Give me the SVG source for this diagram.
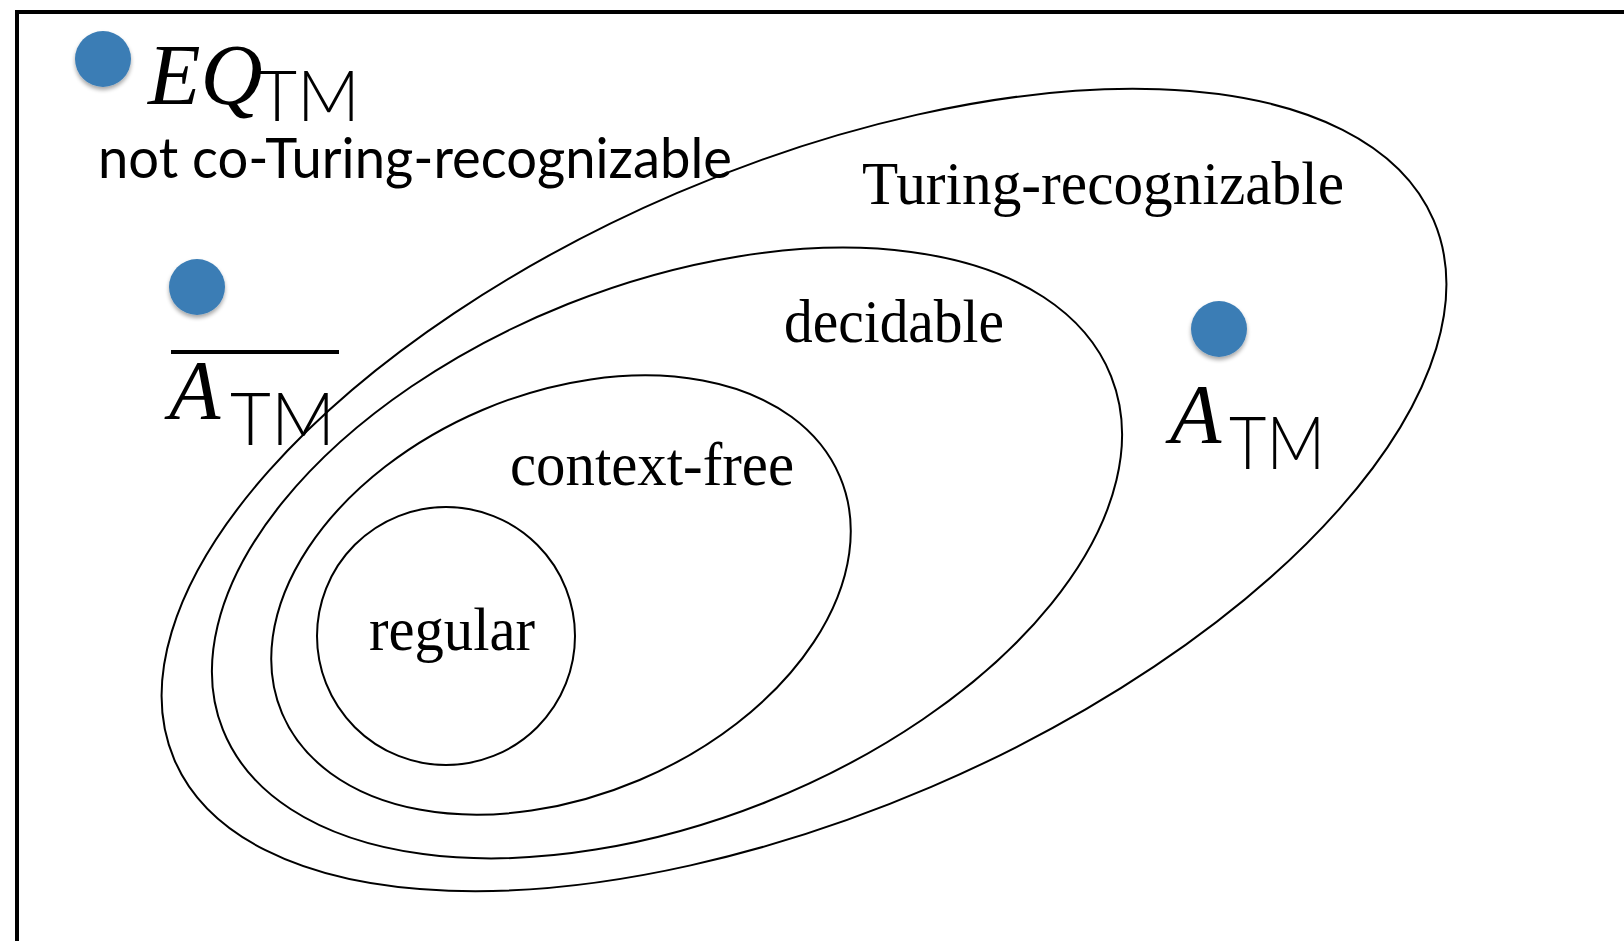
<svg xmlns="http://www.w3.org/2000/svg" width="1624" height="941" viewBox="0 0 1624 941">
<defs>
<style>
.ring{fill:none;stroke:#000;stroke-width:2}
.dot{fill:#3b7db5}
.ser{font-family:"Liberation Serif",serif;fill:#000}
.it{font-family:"Liberation Serif",serif;font-style:italic;fill:#000}
.sans{font-family:Lato,"Open Sans",sans-serif;fill:#000}
.thin{font-family:Lato,"Open Sans",sans-serif;font-weight:300;fill:#000}
</style>
<filter id="sh" x="-50%" y="-50%" width="200%" height="200%">
<feGaussianBlur in="SourceAlpha" stdDeviation="2"/>
<feOffset dx="0" dy="3" result="b"/>
<feComponentTransfer><feFuncA type="linear" slope="0.35"/></feComponentTransfer>
<feMerge><feMergeNode/><feMergeNode in="SourceGraphic"/></feMerge>
</filter>
</defs>
<rect width="1624" height="941" fill="#fff"/>
<path d="M17 941 V12 H1624" fill="none" stroke="#000" stroke-width="4"/>
<g id="turing-recognizable">
<ellipse class="ring" cx="804" cy="490" rx="685" ry="323" transform="rotate(-23.2 804 490)"/>
<text class="ser" x="862" y="204" font-size="62" textLength="482" lengthAdjust="spacingAndGlyphs">Turing-recognizable</text>
</g>
<g id="decidable">
<ellipse class="ring" cx="667" cy="553" rx="478" ry="268" transform="rotate(-21.7 667 553)"/>
<text class="ser" x="784" y="342" font-size="62" textLength="220" lengthAdjust="spacingAndGlyphs">decidable</text>
</g>
<g id="context-free">
<ellipse class="ring" cx="561" cy="595" rx="303" ry="201" transform="rotate(-23 561 595)"/>
<text class="ser" x="510" y="485" font-size="62" textLength="284" lengthAdjust="spacingAndGlyphs">context-free</text>
</g>
<g id="regular">
<circle class="ring" cx="446" cy="636" r="129"/>
<text class="ser" x="369" y="650" font-size="62" textLength="166" lengthAdjust="spacingAndGlyphs">regular</text>
</g>
<g id="eq-tm">
<circle class="dot" cx="103" cy="59" r="28" filter="url(#sh)"/>
<text class="it" x="148" y="104" font-size="86">EQ</text>
<text class="thin" x="257" y="121" font-size="70" textLength="103" lengthAdjust="spacingAndGlyphs">TM</text>
<text class="sans" x="98" y="178" font-size="57" textLength="634" lengthAdjust="spacingAndGlyphs">not co-Turing-recognizable</text>
</g>
<g id="a-tm-complement">
<circle class="dot" cx="197" cy="287" r="28" filter="url(#sh)"/>
<rect x="171" y="350" width="168" height="4" fill="#000"/>
<text class="it" x="169" y="419" font-size="84">A</text>
<text class="thin" x="230" y="445" font-size="72" textLength="105" lengthAdjust="spacingAndGlyphs">TM</text>
</g>
<g id="a-tm">
<circle class="dot" cx="1219" cy="329" r="28" filter="url(#sh)"/>
<text class="it" x="1170" y="443" font-size="84">A</text>
<text class="thin" x="1229" y="469" font-size="72" textLength="96" lengthAdjust="spacingAndGlyphs">TM</text>
</g>
<g id="connectors"/>
</svg>
